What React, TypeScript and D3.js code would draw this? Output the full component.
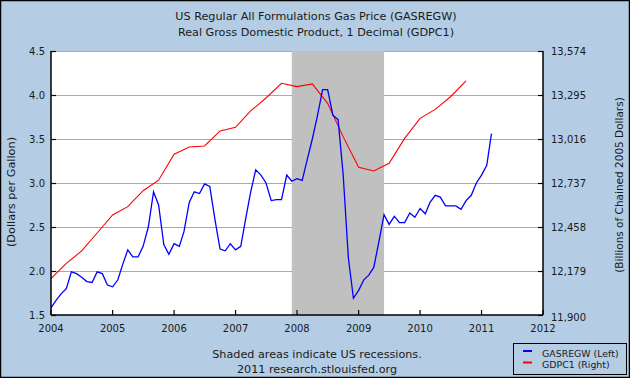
import React from "react";
import * as d3 from "d3";

const W = 630;
const H = 378;

const titleLines = [
  "US Regular All Formulations Gas Price (GASREGW)",
  "Real Gross Domestic Product, 1 Decimal (GDPC1)",
];
const footerLines = ["Shaded areas indicate US recessions.", "2011 research.stlouisfed.org"];
const leftAxisTitle = "(Dollars per Gallon)";
const rightAxisTitle = "(Billions of Chained 2005 Dollars)";

const gasStart = "2004-01-01";
// monthly, Jan 2004 .. Mar 2011
const gasValues = [
  1.58, 1.67, 1.74, 1.8, 1.99, 1.97, 1.93, 1.88, 1.87, 1.99, 1.97, 1.84,
  1.82, 1.9, 2.07, 2.24, 2.16, 2.16, 2.28, 2.5, 2.9, 2.75, 2.3, 2.19,
  2.31, 2.28, 2.45, 2.78, 2.9, 2.88, 2.99, 2.96, 2.58, 2.25, 2.23, 2.31,
  2.24, 2.28, 2.58, 2.9, 3.15, 3.09, 3.0, 2.8, 2.81, 2.81, 3.09, 3.02,
  3.05, 3.03, 3.26, 3.5, 3.76, 4.06, 4.06, 3.77, 3.72, 3.1, 2.15, 1.69,
  1.78, 1.9, 1.95, 2.04, 2.33, 2.64, 2.53, 2.62, 2.55, 2.55, 2.66, 2.61,
  2.71, 2.65, 2.78, 2.86, 2.84, 2.74, 2.74, 2.74, 2.7, 2.8, 2.86, 3.0,
  3.09, 3.2, 3.56,
];

const gdpStart = "2004-01-01";
// quarterly, 2004Q1 .. 2010Q4
const gdpValues = [
  12130, 12227, 12306, 12420, 12534, 12587, 12688, 12755, 12919, 12965, 12972, 13067,
  13090, 13194, 13276, 13369, 13348, 13365, 13242, 13031, 12837, 12813, 12862, 13020,
  13147, 13204, 13284, 13384,
];

const recession = ["2007-12-01", "2009-06-01"];

const xTickYears = [2004, 2005, 2006, 2007, 2008, 2009, 2010, 2011, 2012];
const leftTicks = [1.5, 2.0, 2.5, 3.0, 3.5, 4.0, 4.5];
const rightTicks = [11900, 12179, 12458, 12737, 13016, 13295, 13574];

const legendItems = [
  { label: "GASREGW (Left)", color: "#0000ff" },
  { label: "GDPC1 (Right)", color: "#ff0000" },
];

const FONT = "'DejaVu Sans', Verdana, sans-serif";

export default function App() {
  const left = 51;
  const right = 543;
  const top = 51;
  const bottom = 315;

  const x = d3
    .scaleUtc()
    .domain([new Date(Date.UTC(2004, 0, 1)), new Date(Date.UTC(2012, 0, 1))])
    .range([left, right]);
  const yL = d3.scaleLinear().domain([1.5, 4.5]).range([bottom, top]);
  const yR = d3.scaleLinear().domain([11900, 13574]).range([bottom, top]);

  const g0 = new Date(gasStart + "T00:00:00Z");
  const gas = gasValues.map((v, i) => ({ d: d3.utcMonth.offset(g0, i), v }));
  const q0 = new Date(gdpStart + "T00:00:00Z");
  const gdp = gdpValues.map((v, i) => ({ d: d3.utcMonth.offset(q0, i * 3), v }));

  const gasLine = d3
    .line<{ d: Date; v: number }>()
    .x((p) => x(p.d))
    .y((p) => yL(p.v))(gas) as string;
  const gdpLine = d3
    .line<{ d: Date; v: number }>()
    .x((p) => x(p.d))
    .y((p) => yR(p.v))(gdp) as string;

  const r0 = x(new Date(recession[0] + "T00:00:00Z"));
  const r1 = x(new Date(recession[1] + "T00:00:00Z"));

  const textColor = "#1a1a1a";

  return (
    <svg
      width={W}
      height={H}
      style={{ position: "fixed", left: 0, top: 0, display: "block" }}
      fontFamily={FONT}
    >
      <rect x={0} y={0} width={W} height={H} fill="#b4cde4" />
      <rect x={0.5} y={0.5} width={W - 1} height={H - 1} fill="none" stroke="#000" strokeWidth={1.5} />

      {titleLines.map((t, i) => (
        <text key={t} x={316} y={20 + i * 16} textAnchor="middle" fontSize={11.2} fill={textColor}>
          {t}
        </text>
      ))}

      {/* plot area */}
      <rect x={left} y={top} width={right - left} height={bottom - top} fill="#ffffff" />

      {/* grid */}
      {leftTicks.slice(1).map((t) => (
        <line key={t} x1={left} x2={right} y1={Math.round(yL(t)) + 0.5} y2={Math.round(yL(t)) + 0.5} stroke="#aaaaaa" strokeWidth={1} />
      ))}

      {/* recession */}
      <rect x={r0} y={top} width={r1 - r0} height={bottom - top} fill="#c0c0c0" />

      {/* lines */}
      <path d={gdpLine} fill="none" stroke="#ff0000" strokeWidth={1.1} />
      <path d={gasLine} fill="none" stroke="#0000ff" strokeWidth={1.3} />

      {/* axes */}
      <line x1={left} x2={left} y1={top} y2={bottom} stroke="#000" strokeWidth={1.5} />
      <line x1={right} x2={right} y1={top} y2={bottom} stroke="#000" strokeWidth={1.5} />
      <line x1={left} x2={right} y1={bottom} y2={bottom} stroke="#000" strokeWidth={1.5} />

      {leftTicks.map((t) => (
        <g key={"l" + t}>
          <line x1={left} x2={left + 5} y1={Math.round(yL(t)) + 0.5} y2={Math.round(yL(t)) + 0.5} stroke="#000" strokeWidth={1.2} />
          <text x={left - 6} y={yL(t)} dy="0.35em" textAnchor="end" fontSize={10} fill={textColor}>
            {t.toFixed(1)}
          </text>
        </g>
      ))}
      {rightTicks.map((t) => (
        <g key={"r" + t}>
          <line x1={right - 5} x2={right} y1={Math.round(yR(t)) + 0.5} y2={Math.round(yR(t)) + 0.5} stroke="#000" strokeWidth={1.2} />
          <text x={right + 8} y={yR(t) + (t === 11900 ? 2 : 0)} dy="0.35em" textAnchor="start" fontSize={10} fill={textColor}>
            {d3.format(",")(t)}
          </text>
        </g>
      ))}
      {xTickYears.map((yr) => {
        const xx = x(new Date(Date.UTC(yr, 0, 1)));
        return (
          <g key={"x" + yr}>
            <line x1={xx} x2={xx} y1={bottom} y2={bottom - 5} stroke="#000" strokeWidth={1.2} />
            <text x={xx} y={bottom + 13} dy="0.35em" textAnchor="middle" fontSize={10} fill={textColor}>
              {yr}
            </text>
          </g>
        );
      })}

      <text
        transform={`translate(11,${(top + bottom) / 2 + 9}) rotate(-90)`}
        textAnchor="middle"
        dy="0.35em"
        fontSize={11.3}
        fill={textColor}
      >
        {leftAxisTitle}
      </text>
      <text
        transform={`translate(619,${(top + bottom) / 2 + 2}) rotate(-90)`}
        textAnchor="middle"
        dy="0.35em"
        fontSize={10.5}
        fill={textColor}
      >
        {rightAxisTitle}
      </text>

      {footerLines.map((t, i) => (
        <text key={t} x={317} y={358 + i * 15} textAnchor="middle" fontSize={11.2} fill={textColor}>
          {t}
        </text>
      ))}

      {/* legend */}
      <rect x={513.5} y={343.5} width={113} height={31} fill="#b4cde4" stroke="#000" strokeWidth={1} />
      {legendItems.map((it, i) => (
        <g key={it.label}>
          <line x1={523} x2={532} y1={351 + i * 11.5} y2={351 + i * 11.5} stroke={it.color} strokeWidth={2} />
          <text x={542} y={354 + i * 11.5} dy="0.3em" fontSize={9.4} fill={textColor}>
            {it.label}
          </text>
        </g>
      ))}
    </svg>
  );
}
